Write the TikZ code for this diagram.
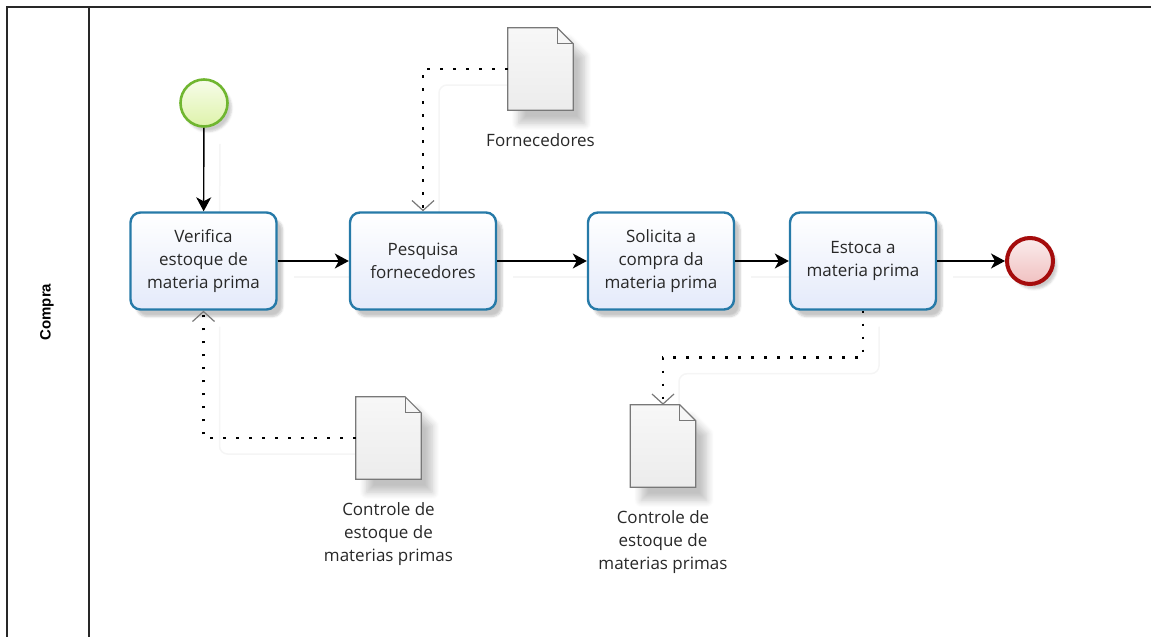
\documentclass[tikz,border=0pt]{standalone}
\usepackage{fontspec}
\setmainfont{Open Sans}
\newfontfamily\lanefont{Liberation Sans}
\usetikzlibrary{arrows.meta,calc,shadows.blur}

\definecolor{taskline}{RGB}{38,122,168}
\definecolor{taskfill}{RGB}{228,234,250}
\definecolor{txt}{RGB}{40,40,40}
\definecolor{startline}{RGB}{112,182,48}
\definecolor{startfill}{RGB}{222,243,170}
\definecolor{endline}{RGB}{165,12,12}
\definecolor{endfill}{RGB}{240,192,192}
\definecolor{docline}{RGB}{120,120,120}
\definecolor{docfill}{RGB}{236,236,236}
\definecolor{laneline}{RGB}{40,40,40}

\pgfdeclarelayer{background}
\pgfsetlayers{background,main}

% outline of a data object with a folded corner
\newcommand{\docshape}[1]{%
  \shade[draw=docline, line width=1.2pt, top color=white!97!black, bottom color=docfill,
    blur shadow={shadow xshift=11pt, shadow yshift=-13pt, shadow opacity=24, shadow blur radius=7pt, shadow blur steps=8}]
    (#1.north west) -- ($(#1.north east)+(-16,0)$) -- ($(#1.north east)+(0,16)$)
    -- (#1.south east) -- (#1.south west) -- cycle;
  \draw[docline, line width=1pt] ($(#1.north east)+(-16,0)$) -- ($(#1.north east)+(-16,16)$) -- ($(#1.north east)+(0,16)$);
}

\begin{document}
\begin{tikzpicture}[x=1pt,y=-1pt,
  every node/.style={text=txt, font=\fontsize{17}{23}\selectfont},
  task/.style={rectangle, rounded corners=10pt, draw=taskline, line width=2.4pt,
    minimum width=146pt, minimum height=97pt, align=center, inner sep=0pt,
    top color=white, bottom color=taskfill,
    blur shadow={shadow xshift=6pt, shadow yshift=-7pt, shadow opacity=22, shadow blur steps=6}},
  startev/.style={circle, minimum size=47pt, inner sep=0pt, draw=startline, line width=2.6pt,
    top color=startfill!25, bottom color=startfill,
    blur shadow={shadow xshift=4pt, shadow yshift=-5pt, shadow opacity=20}},
  endev/.style={circle, minimum size=46pt, inner sep=0pt, draw=endline, line width=4pt,
    top color=endfill!30, bottom color=endfill,
    blur shadow={shadow xshift=4pt, shadow yshift=-5pt, shadow opacity=20}},
  docnode/.style={rectangle, minimum width=65pt, minimum height=82pt, inner sep=0pt},
  doclabel/.style={anchor=north, align=center, inner sep=0pt},
  seq/.style={draw=black, line width=1.4pt, -{Stealth[length=14pt,width=15pt,inset=4pt]}},
  assoc/.style={draw=black, line width=2.6pt, dash pattern=on 2.6pt off 10.4pt,
    -{Straight Barb[length=10pt,width=22pt,line width=1.2pt,color=docline]}},
  cshadow/.style={draw=black!4, line width=1.5pt, rounded corners=8pt},
  lane/.style={draw=laneline, line width=1.6pt}
]
\useasboundingbox (0,0) rectangle (1151,637);

% pool frame and lane header
\draw[lane] (7,637) -- (7,7) -- (1151,7);
\draw[lane] (89,7) -- (89,637);
\node[rotate=90, font=\lanefont\bfseries\fontsize{15}{17}\selectfont, text=black] (lanename) at (47,312) {Compra};

% documents (data objects)
\node[docnode] (forn) at (540.5,69) {};
\node[docnode] (ctrlA) at (388.5,438) {};
\node[docnode] (ctrlB) at (663,446) {};
\docshape{forn}
\docshape{ctrlA}
\docshape{ctrlB}
\node[doclabel] (fornlbl) at ($(forn.south)+(0,23)$) {Fornecedores};
\node[doclabel] (ctrlAlbl) at ($(ctrlA.south)+(0,23)$) {Controle de\\estoque de\\materias primas};
\node[doclabel] (ctrlBlbl) at ($(ctrlB.south)+(0,23)$) {Controle de\\estoque de\\materias primas};

% events and tasks
\node[startev] (start) at (204,103) {};
\node[task] (t1) at (203.5,261) {Verifica\\estoque de\\materia prima};
\node[task] (t2) at (423,261) {Pesquisa\\fornecedores};
\node[task] (t3) at (661,261) {Solicita a\\compra da\\materia prima};
\node[task] (t4) at (863,261) {Estoca a\\materia prima};
\node[endev] (end) at (1030,261) {};

% faint connector shadows, kept behind everything else
\begin{pgfonlayer}{background}
\begin{scope}[transform canvas={xshift=16pt,yshift=-16pt}]
  \draw[cshadow] (start.south) -- (t1.north);
  \draw[cshadow] (t1.east) -- (t2.west);
  \draw[cshadow] (t2.east) -- (t3.west);
  \draw[cshadow] (t3.east) -- (t4.west);
  \draw[cshadow] (t4.east) -- (end.west);
  \draw[cshadow] (forn.west) -| (t2.north);
  \draw[cshadow] (ctrlA.west) -| (t1.south);
  \draw[cshadow] (t4.south) -- ++(0,47) -| (ctrlB.north);
\end{scope}
\end{pgfonlayer}

% sequence flows
\draw[seq] (start) -- (t1);
\draw[seq] (t1) -- (t2);
\draw[seq] (t2) -- (t3);
\draw[seq] (t3) -- (t4);
\draw[seq] (t4) -- (end);

% data associations
\draw[assoc] (forn.west) -| (t2.north);
\draw[assoc] (ctrlA.west) -| (t1.south);
\draw[assoc] (t4.south) -- ++(0,47) -| (ctrlB.north);
\end{tikzpicture}
\end{document}
